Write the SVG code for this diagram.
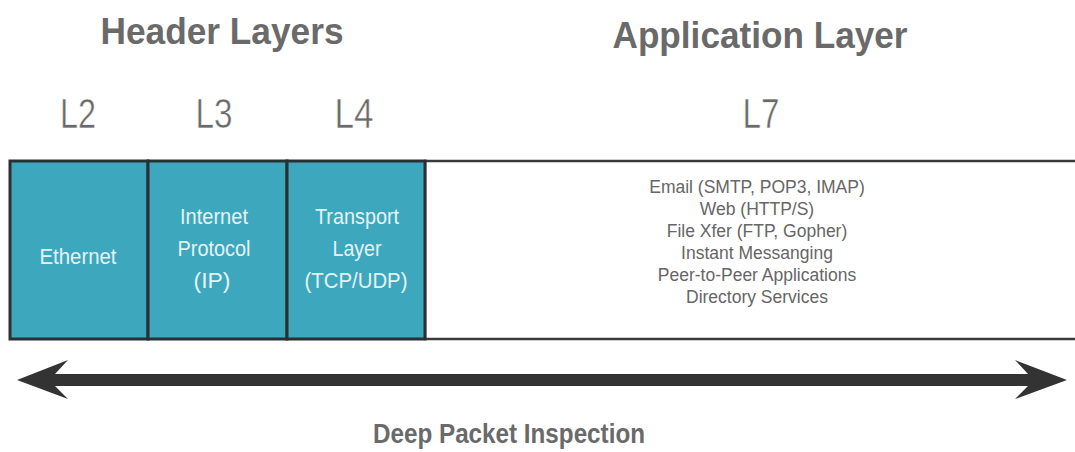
<svg xmlns="http://www.w3.org/2000/svg" width="1075" height="452" viewBox="0 0 1075 452">
  <style>
    .title { font-family: "Liberation Sans", Arial, sans-serif; font-weight: bold; font-size: 36px; fill: #6a6a6a; text-anchor: middle; }
    .layer { font-family: "Liberation Sans", Arial, sans-serif; font-size: 42px; fill: #6a6a6a; stroke: #ffffff; stroke-width: 0.5; text-anchor: middle; }
    .cell { fill: #3da7be; stroke: #2a2f33; stroke-width: 3; }
    .cell-text { font-family: "Liberation Sans", Arial, sans-serif; font-size: 22px; fill: #e4f3f6; text-anchor: middle; }
    .app-text { font-family: "Liberation Sans", Arial, sans-serif; font-size: 17.5px; fill: #666666; text-anchor: middle; }
    .footer { font-family: "Liberation Sans", Arial, sans-serif; font-weight: bold; font-size: 27px; fill: #6a6a6a; text-anchor: middle; }
  </style>
  <rect width="1075" height="452" fill="#ffffff"/>

  <!-- section titles -->
  <text class="title" x="222" y="44" textLength="243" lengthAdjust="spacingAndGlyphs">Header Layers</text>
  <text class="title" x="760" y="48" textLength="295" lengthAdjust="spacingAndGlyphs">Application Layer</text>

  <!-- OSI layer numbers -->
  <text class="layer" x="78" y="128" textLength="36" lengthAdjust="spacingAndGlyphs">L2</text>
  <text class="layer" x="214" y="128" textLength="37" lengthAdjust="spacingAndGlyphs">L3</text>
  <text class="layer" x="354" y="128" textLength="39" lengthAdjust="spacingAndGlyphs">L4</text>
  <text class="layer" x="761" y="128" textLength="37" lengthAdjust="spacingAndGlyphs">L7</text>

  <!-- application payload area -->
  <g id="application">
    <rect x="425" y="161" width="660" height="178" fill="#ffffff" stroke="#3a3a3a" stroke-width="2.5"/>
    <text class="app-text" x="757" y="193">Email (SMTP, POP3, IMAP)</text>
    <text class="app-text" x="757" y="215">Web (HTTP/S)</text>
    <text class="app-text" x="757" y="237">File Xfer (FTP, Gopher)</text>
    <text class="app-text" x="757" y="259">Instant Messanging</text>
    <text class="app-text" x="757" y="281">Peer-to-Peer Applications</text>
    <text class="app-text" x="757" y="303">Directory Services</text>
  </g>

  <!-- header cells -->
  <g id="ethernet">
    <rect class="cell" x="10" y="161" width="138" height="178"/>
    <text class="cell-text" x="78" y="264" textLength="77" lengthAdjust="spacingAndGlyphs">Ethernet</text>
  </g>
  <g id="ip">
    <rect class="cell" x="148" y="161" width="139" height="178"/>
    <text class="cell-text" x="214" y="224" textLength="68" lengthAdjust="spacingAndGlyphs">Internet</text>
    <text class="cell-text" x="214" y="256" textLength="73" lengthAdjust="spacingAndGlyphs">Protocol</text>
    <text class="cell-text" x="212" y="288" textLength="37" lengthAdjust="spacingAndGlyphs">(IP)</text>
  </g>
  <g id="transport">
    <rect class="cell" x="287" y="161" width="138" height="178"/>
    <text class="cell-text" x="357" y="224" textLength="84" lengthAdjust="spacingAndGlyphs">Transport</text>
    <text class="cell-text" x="357" y="256" textLength="49" lengthAdjust="spacingAndGlyphs">Layer</text>
    <text class="cell-text" x="356" y="288" textLength="103" lengthAdjust="spacingAndGlyphs">(TCP/UDP)</text>
  </g>

  <!-- double-headed span arrow -->
  <g id="connectors">
    <path d="M17,380 L68,360 L55,374 L1028,374 L1015,360 L1067,380 L1015,399 L1028,386 L55,386 L68,399 Z" fill="#333333"/>
  </g>

  <text class="footer" x="509" y="443" textLength="272" lengthAdjust="spacingAndGlyphs">Deep Packet Inspection</text>
</svg>
